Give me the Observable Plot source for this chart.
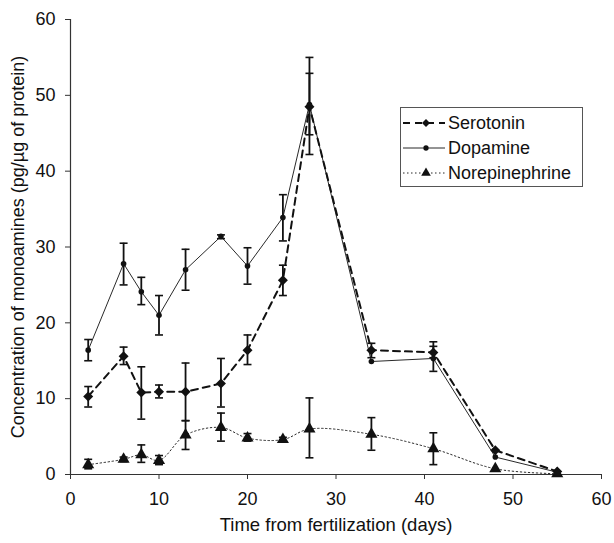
<!DOCTYPE html>
<html><head><meta charset="utf-8">
<script src="https://cdn.jsdelivr.net/npm/d3@7"></script>
<script src="https://cdn.jsdelivr.net/npm/@observablehq/plot@0.6"></script>
<style>
body{margin:0;background:#fff;font-family:"Liberation Sans",Arial,sans-serif;}
#wrap{position:relative;width:614px;height:543px;}
#legend{position:absolute;left:400px;top:107px;}
</style></head><body><div id="wrap"></div>
<script>
const days = [2, 6, 8, 10, 13, 17, 20, 24, 27, 34, 41, 48, 55];

const serotonin   = [10.3, 15.6, 10.8, 10.9, 10.9, 12.0, 16.4, 25.6, 48.5, 16.4, 16.1, 3.2, 0.4];
const serotoninLo = [8.9, 14.5, 7.3, 10.1, 7.1, 8.9, 14.5, 23.6, 44.8, 15.4, 15.4, null, null];
const serotoninHi = [11.6, 16.8, 14.2, 11.8, 14.7, 15.3, 18.4, 27.6, 52.9, 17.3, 17.5, null, null];

const dopamine   = [16.4, 27.8, 24.1, 21.0, 27.0, 31.4, 27.5, 33.9, 48.8, 14.9, 15.3, 2.3, 0.3];
const dopamineLo = [15.0, 25.0, 22.4, 18.4, 24.3, 31.1, 25.1, 30.8, 42.2, null, 13.6, null, null];
const dopamineHi = [17.8, 30.5, 26.0, 23.6, 29.7, 31.6, 29.9, 36.9, 55.0, null, 16.9, null, null];

const norepinephrine   = [1.3, 2.0, 2.6, 1.85, 5.2, 6.2, 4.8, 4.6, 6.0, 5.3, 3.4, 0.75, 0.1];
const norepinephrineLo = [0.75, 1.7, 1.6, 1.3, 3.3, 4.4, 4.4, 4.3, 2.2, 3.2, 1.3, null, null];
const norepinephrineHi = [2.0, 2.3, 3.9, 2.5, 7.1, 8.1, 5.4, 4.9, 10.1, 7.5, 5.5, null, null];

const xTicks = [0, 10, 20, 30, 40, 50, 60];
const yTicks = [0, 10, 20, 30, 40, 50, 60];
const xLabel = "Time from fertilization (days)";
const yLabel = "Concentration of monoamines (pg/µg of protein)";
const seriesNames = ["Serotonin", "Dopamine", "Norepinephrine"];

function rows(name, vals, lo, hi) {
  return days.map((d, i) => ({series: name, day: d, value: vals[i], lo: lo[i], hi: hi[i]}));
}
const ser = rows("Serotonin", serotonin, serotoninLo, serotoninHi);
const dop = rows("Dopamine", dopamine, dopamineLo, dopamineHi);
const ne = rows("Norepinephrine", norepinephrine, norepinephrineLo, norepinephrineHi);
const errs = [...ser, ...dop, ...ne].filter(r => r.lo != null);
const cap = 0.45;
const ink = "#111";
const font = "'Liberation Sans', Arial, sans-serif";

const chart = Plot.plot({
  width: 614, height: 543,
  marginLeft: 70, marginRight: 13, marginTop: 19, marginBottom: 69,
  x: {domain: [0, 60]},
  y: {domain: [0, 60]},
  style: {fontFamily: font, fontSize: "18px", color: ink, background: "#fff"},
  marks: [
    Plot.axisX({ticks: xTicks, tickSize: 5, tickPadding: 13, label: null, fontSize: 18, stroke: "#333"}),
    Plot.axisY({ticks: yTicks, tickSize: 5, tickPadding: 10, label: null, fontSize: 18, stroke: "#333"}),
    Plot.ruleX([0], {stroke: "#333", strokeWidth: 1.2}),
    Plot.ruleY([0], {stroke: "#333", strokeWidth: 1.2}),
    Plot.line(ne, {x: "day", y: "value", stroke: ink, strokeWidth: 0.9, strokeDasharray: "1.5,2.5", curve: "catmull-rom"}),
    Plot.line(dop, {x: "day", y: "value", stroke: ink, strokeWidth: 0.9}),
    Plot.line(ser, {x: "day", y: "value", stroke: ink, strokeWidth: 2, strokeDasharray: "7,5"}),
    Plot.ruleX(errs, {x: "day", y1: "lo", y2: "hi", stroke: ink, strokeWidth: 1.8}),
    Plot.link(errs, {x1: d => d.day - cap, x2: d => d.day + cap, y1: "lo", y2: "lo", stroke: ink, strokeWidth: 1.6}),
    Plot.link(errs, {x1: d => d.day - cap, x2: d => d.day + cap, y1: "hi", y2: "hi", stroke: ink, strokeWidth: 1.6}),
    Plot.dot(ser, {x: "day", y: "value", symbol: "diamond2", r: 4.5, fill: ink, stroke: "none"}),
    Plot.dot(dop, {x: "day", y: "value", symbol: "circle", r: 2.8, fill: ink, stroke: "none"}),
    Plot.dot(ne, {x: "day", y: "value", symbol: "triangle", r: 4.5, fill: ink, stroke: "none"}),
    Plot.text([xLabel], {frameAnchor: "bottom", dy: 56, fontSize: 18.5, fill: ink}),
    Plot.text([yLabel], {frameAnchor: "left", textAnchor: "middle", dx: -52, rotate: -90, fontSize: 18, fill: ink})
  ]
});
document.getElementById("wrap").appendChild(chart);

// Legend
const lg = d3.select("#wrap").append("svg").attr("id", "legend")
  .attr("width", 184).attr("height", 81);
lg.append("rect").attr("x", 0.5).attr("y", 0.5).attr("width", 182).attr("height", 79)
  .attr("fill", "#fff").attr("stroke", "#555").attr("stroke-width", 1);
const styles = [
  {dash: "7,5", w: 2, sym: d3.symbolDiamond2, size: 40},
  {dash: null, w: 0.9, sym: d3.symbolCircle, size: 22},
  {dash: "1.5,2.5", w: 0.9, sym: d3.symbolTriangle, size: 40}
];
seriesNames.forEach((name, i) => {
  const y = 16 + i * 25;
  const s = styles[i];
  const ln = lg.append("line").attr("x1", 3).attr("x2", 45).attr("y1", y).attr("y2", y)
    .attr("stroke", ink).attr("stroke-width", s.w);
  if (s.dash) ln.attr("stroke-dasharray", s.dash);
  lg.append("path").attr("d", d3.symbol(s.sym, s.size)()).attr("transform", `translate(26,${y})`).attr("fill", ink);
  lg.append("text").attr("x", 48).attr("y", y).attr("dy", "0.36em")
    .attr("font-size", 18).attr("font-family", font).attr("fill", ink).text(name);
});
</script>
</body></html>
